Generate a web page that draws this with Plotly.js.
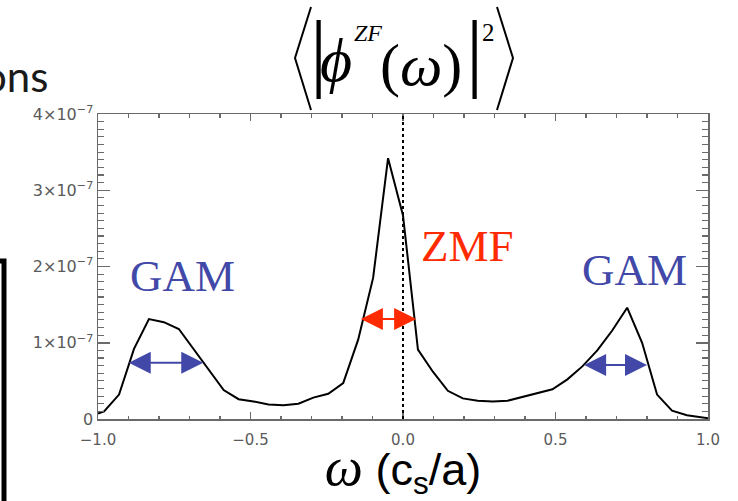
<!DOCTYPE html>
<html>
<head>
<meta charset="utf-8">
<script src="https://cdn.plot.ly/plotly-3.0.1.min.js"></script>
<style>
html,body{margin:0;padding:0;background:#fff;}
#chart{width:738px;height:501px;}
</style>
</head>
<body>
<div id="chart"></div>
<script>
// ---- data ----
const omega = [-1.0, -0.980, -0.931, -0.882, -0.833, -0.784, -0.735, -0.686, -0.637, -0.588,
               -0.539, -0.490, -0.441, -0.392, -0.343, -0.294, -0.245, -0.196, -0.147, -0.098,
               -0.049, 0.0, 0.049, 0.098, 0.147, 0.196, 0.245, 0.294, 0.343, 0.392,
               0.441, 0.490, 0.539, 0.588, 0.637, 0.686, 0.735, 0.784, 0.833, 0.882,
               0.931, 0.980, 1.0];
const power = [0.07e-7, 0.10e-7, 0.32e-7, 0.92e-7, 1.31e-7, 1.27e-7, 1.18e-7, 0.91e-7, 0.64e-7, 0.38e-7,
               0.26e-7, 0.23e-7, 0.19e-7, 0.18e-7, 0.20e-7, 0.28e-7, 0.33e-7, 0.47e-7, 1.04e-7, 1.85e-7,
               3.42e-7, 2.67e-7, 0.91e-7, 0.62e-7, 0.37e-7, 0.27e-7, 0.24e-7, 0.23e-7, 0.24e-7, 0.29e-7,
               0.35e-7, 0.39e-7, 0.52e-7, 0.69e-7, 0.90e-7, 1.16e-7, 1.46e-7, 1.00e-7, 0.32e-7, 0.11e-7,
               0.05e-7, 0.02e-7, 0.01e-7];

const xTickVals = [-1.0, -0.5, 0.0, 0.5, 1.0];
const xTickText = ['\u22121.0', '\u22120.5', '0.0', '0.5', '1.0'];
const yTickVals = [0, 1e-7, 2e-7, 3e-7, 4e-7];
const yTickText = ['0', '1\u00d710<sup>\u22127</sup>', '2\u00d710<sup>\u22127</sup>',
                   '3\u00d710<sup>\u22127</sup>', '4\u00d710<sup>\u22127</sup>'];

// labels and width arrows
const peakLabels = ['GAM', 'ZMF', 'GAM'];
const labelOmega = [-0.722, 0.211, 0.760];
const labelPower = [1.88e-7, 2.27e-7, 1.96e-7];
const arrowLeft  = [-0.904, -0.143, 0.589];
const arrowRight = [-0.655, 0.043, 0.800];
const arrowPower = [0.738e-7, 1.31e-7, 0.708e-7];

const BLUE = '#4148a8';
const RED = '#ff2a00';
const labelColors = [BLUE, RED, BLUE];

// ---- layout helpers (pixel -> paper) ----
const M = {l: 98, r: 30, t: 114, b: 82};
const W = 738, H = 501;
const PW = W - M.l - M.r, PH = H - M.t - M.b;
const px = x => (x - M.l) / PW;
const py = y => (H - M.b - y) / PH;

const annotations = [];
for (let i = 0; i < peakLabels.length; i++) {
  annotations.push({
    x: labelOmega[i], y: labelPower[i], xref: 'x', yref: 'y',
    text: peakLabels[i], showarrow: false, xanchor: 'center', yanchor: 'middle',
    font: {family: 'Liberation Serif', size: 45, color: labelColors[i]}
  });
  annotations.push({
    x: arrowRight[i], y: arrowPower[i], ax: arrowLeft[i], ay: arrowPower[i],
    xref: 'x', yref: 'y', axref: 'x', ayref: 'y', text: '',
    showarrow: true, arrowside: 'end+start', arrowhead: 2, startarrowhead: 2,
    arrowsize: 2.2, startarrowsize: 2.2, arrowwidth: 2, arrowcolor: labelColors[i],
    standoff: 0, startstandoff: 0
  });
}

// title pieces
const serif = 'Liberation Serif';
annotations.push(
  {x: px(318), y: py(51), text: '|', font: {family: serif, size: 86, color: '#000'}},
  {x: px(336), y: py(60), text: '<i>\u03d5</i>', font: {family: serif, size: 62, color: '#000'}},
  {x: px(368), y: py(33), text: '<i>ZF</i>', font: {family: serif, size: 24, color: '#000'}},
  {x: px(421), y: py(65), text: '(<i>\u03c9</i>)', font: {family: serif, size: 60, color: '#000'}},
  {x: px(474), y: py(51), text: '|', font: {family: serif, size: 86, color: '#000'}},
  {x: px(488), y: py(33), text: '2', font: {family: serif, size: 25, color: '#000'}}
);
annotations.forEach(a => {
  if (a.xref === undefined) {
    Object.assign(a, {xref: 'paper', yref: 'paper', showarrow: false, xanchor: 'center', yanchor: 'middle'});
  }
});

// slide text fragment at top left
annotations.push({
  x: px(50), y: py(76), xref: 'paper', yref: 'paper', showarrow: false,
  xanchor: 'right', yanchor: 'middle', text: 'ons',
  font: {family: 'Lato', size: 42, color: '#1a1a1a'}
});

const shapes = [
  {type: 'line', xref: 'x', yref: 'paper', x0: 0, x1: 0, y0: 0, y1: 1,
   line: {color: '#000', width: 2, dash: 'dot'}},
  {type: 'path', xref: 'paper', yref: 'paper',
   path: `M ${px(311)} ${py(7)} L ${px(295)} ${py(58)} L ${px(311)} ${py(110)}`,
   line: {color: '#000', width: 2}},
  {type: 'path', xref: 'paper', yref: 'paper',
   path: `M ${px(497)} ${py(7)} L ${px(513)} ${py(58)} L ${px(497)} ${py(110)}`,
   line: {color: '#000', width: 2}},
  {type: 'path', xref: 'paper', yref: 'paper',
   path: `M ${px(-10)} ${py(261)} L ${px(4)} ${py(261)} L ${px(4)} ${py(520)}`,
   line: {color: '#000', width: 5}}
];

const layout = {
  width: W, height: H,
  margin: M,
  paper_bgcolor: '#fff', plot_bgcolor: '#fff',
  showlegend: false,
  xaxis: {
    range: [-1, 1], showgrid: false, zeroline: false,
    showline: true, linecolor: '#6a6a6a', linewidth: 1.5, mirror: 'allticks',
    ticks: 'inside', ticklen: 7, tickwidth: 1.5, tickcolor: '#6a6a6a',
    tickmode: 'array', tickvals: xTickVals, ticktext: xTickText,
    ticklabelstandoff: 6,
    tickfont: {family: 'DejaVu Sans', size: 15, color: '#5a5a5a'},
    minor: {dtick: 0.1, ticks: 'inside', ticklen: 3.5, tickwidth: 1.2, tickcolor: '#6a6a6a', showgrid: false},
    title: {
      text: '<span style="font-family:Liberation Serif;font-size:54px"><i>\u03c9</i></span> (c<sub>s</sub>/a)',
      font: {family: 'Liberation Sans', size: 45, color: '#000'},
      standoff: 3
    }
  },
  yaxis: {
    range: [0, 4e-7], showgrid: false, zeroline: false,
    showline: true, linecolor: '#6a6a6a', linewidth: 1.5, mirror: 'allticks',
    ticks: 'inside', ticklen: 12, tickwidth: 1.5, tickcolor: '#6a6a6a',
    tickmode: 'array', tickvals: yTickVals, ticktext: yTickText,
    tickfont: {family: 'DejaVu Sans', size: 16, color: '#5a5a5a'},
    minor: {dtick: 1e-8, ticks: 'inside', ticklen: 6, tickwidth: 1.2, tickcolor: '#6a6a6a', showgrid: false}
  },
  annotations: annotations,
  shapes: shapes
};

const trace = {
  x: omega, y: power, type: 'scatter', mode: 'lines',
  line: {color: '#000', width: 2},
  hoverinfo: 'skip'
};

Plotly.newPlot('chart', [trace], layout, {staticPlot: true, displayModeBar: false});
</script>
</body>
</html>
